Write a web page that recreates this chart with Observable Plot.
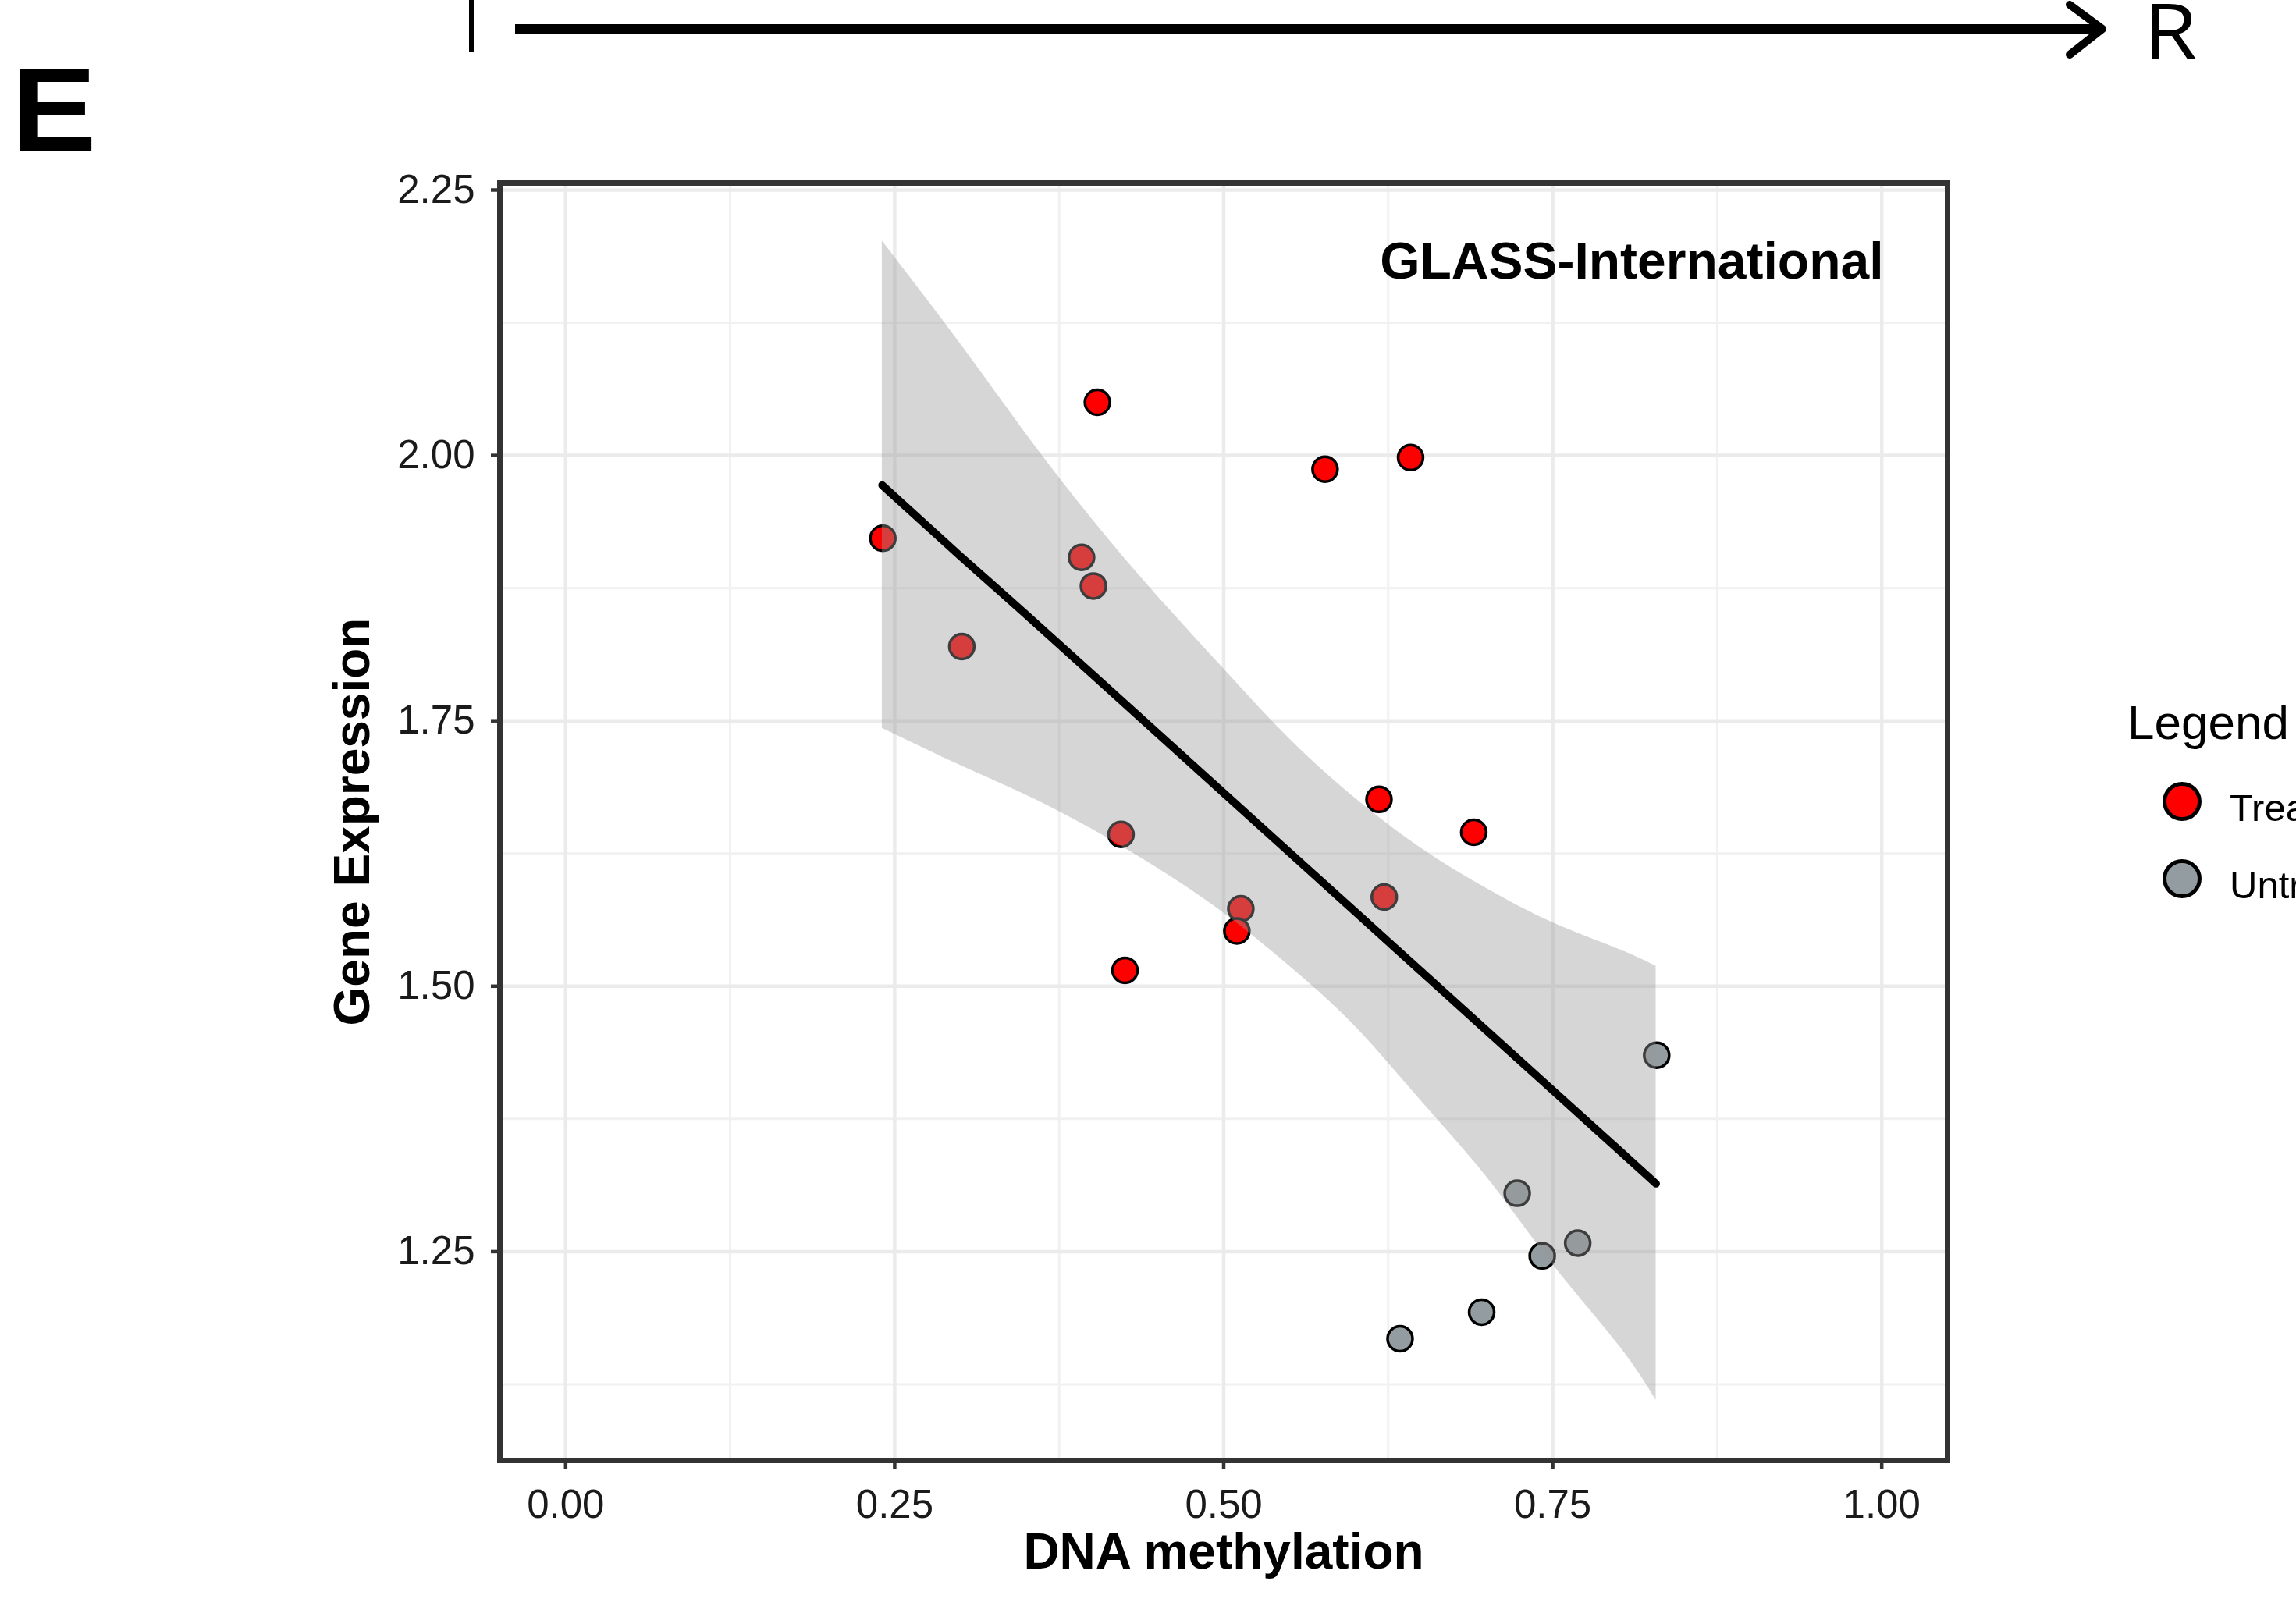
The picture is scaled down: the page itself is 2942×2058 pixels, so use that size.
<!DOCTYPE html>
<html>
<head>
<meta charset="utf-8">
<script src="https://cdn.jsdelivr.net/npm/d3@7"></script>
<script src="https://cdn.jsdelivr.net/npm/@observablehq/plot@0.6"></script>
<style>
  html, body { margin: 0; padding: 0; background: #fff; overflow: hidden; }
  #wrap { position: relative; width: 2942px; height: 2058px; overflow: hidden; background: #fff; }
  #wrap > svg { display: block; }
  #wrap svg.overlay { position: absolute; left: 0; top: 0; pointer-events: none; }
</style>
</head>
<body>
<div id="wrap"></div>
<script>
// ---- data ----
const treatedX = [0.241, 0.301, 0.404, 0.392, 0.401, 0.422, 0.425, 0.513, 0.510, 0.577, 0.642, 0.618, 0.622, 0.690];
const treatedY = [1.922, 1.820, 2.050, 1.904, 1.877, 1.643, 1.515, 1.573, 1.552, 1.987, 1.998, 1.676, 1.584, 1.645];
const untreatedX = [0.829, 0.723, 0.769, 0.742, 0.696, 0.634];
const untreatedY = [1.435, 1.305, 1.258, 1.246, 1.193, 1.168];

// linear fit with 95% confidence band
const fitX     = [0.2405, 0.30, 0.35, 0.40, 0.45, 0.50, 0.55, 0.60, 0.65, 0.70, 0.75, 0.80, 0.8285];
const fitY     = [1.972, 1.905, 1.850, 1.794, 1.738, 1.682, 1.626, 1.570, 1.514, 1.458, 1.402, 1.346, 1.314];
const fitLower = [1.743, 1.708, 1.680, 1.648, 1.611, 1.569, 1.519, 1.462, 1.392, 1.320, 1.238, 1.162, 1.110];
const fitUpper = [2.202, 2.105, 2.020, 1.940, 1.867, 1.799, 1.733, 1.677, 1.630, 1.592, 1.560, 1.535, 1.519];

const xTicks = [0, 0.25, 0.5, 0.75, 1.0];
const yTicks = [1.25, 1.5, 1.75, 2.0, 2.25];
const xMinor = [0.125, 0.375, 0.625, 0.875];
const yMinor = [1.125, 1.375, 1.625, 1.875, 2.125];

const groups = ["Treated", "Untreated"];
const groupColors = ["#FF0000", "#939DA1"];
const xTitle = "DNA methylation";
const yTitle = "Gene Expression";
const panelTitle = "GLASS-International";
const legendTitle = "Legend";
const panelLetter = "E";
const arrowRight = "R";

// ---- build tables ----
const points = treatedX.map((x, i) => ({x, y: treatedY[i], group: groups[0]}))
  .concat(untreatedX.map((x, i) => ({x, y: untreatedY[i], group: groups[1]})));
const fit = fitX.map((x, i) => ({x, y: fitY[i], lo: fitLower[i], hi: fitUpper[i]}));

const FONT = '"Liberation Sans", Arial, Helvetica, sans-serif';

const chart = Plot.plot({
  width: 2942,
  height: 2058,
  marginLeft: 640,
  marginRight: 447,
  marginTop: 234,
  marginBottom: 187,
  style: {fontFamily: FONT, fontSize: "50px", background: "white", color: "#1a1a1a"},
  x: {domain: [-0.05, 1.05]},
  y: {domain: [1.0533, 2.2566]},
  color: {domain: groups, range: groupColors},
  marks: [
    Plot.ruleX(xMinor, {stroke: "#F1F1F1", strokeWidth: 3}),
    Plot.ruleY(yMinor, {stroke: "#F1F1F1", strokeWidth: 3}),
    Plot.ruleX(xTicks, {stroke: "#EBEBEB", strokeWidth: 4.5}),
    Plot.ruleY(yTicks, {stroke: "#EBEBEB", strokeWidth: 4.5}),
    Plot.dot(points, {x: "x", y: "y", r: 16, fill: "group", stroke: "black", strokeWidth: 3.5}),
    Plot.areaY(fit, {x: "x", y1: "lo", y2: "hi", fill: "#999999", fillOpacity: 0.4, curve: "natural"}),
    Plot.line(fit, {x: "x", y: "y", stroke: "black", strokeWidth: 10}),
    Plot.frame({stroke: "#333333", strokeWidth: 7}),
    Plot.axisX(xTicks, {tickSize: 11, tickPadding: 26, tickFormat: d => d.toFixed(2), fontSize: 51,
      stroke: "#333333", strokeWidth: 4.5, fill: "#1a1a1a", label: null}),
    Plot.axisY(yTicks, {tickSize: 11, tickPadding: 21, tickFormat: d => d.toFixed(2), fontSize: 51,
      stroke: "#333333", strokeWidth: 4.5, fill: "#1a1a1a", label: null}),
    Plot.text([xTitle], {frameAnchor: "bottom", lineAnchor: "middle", textAnchor: "middle", dy: 118,
      fontSize: 64, fontWeight: "bold", fill: "black"}),
    Plot.text([yTitle], {frameAnchor: "left", lineAnchor: "middle", textAnchor: "middle", dx: -188, rotate: -90,
      fontSize: 64, fontWeight: "bold", fill: "black"}),
    Plot.text([panelTitle], {frameAnchor: "top-right", lineAnchor: "middle", textAnchor: "end", dx: -82, dy: 101,
      fontSize: 66, fontWeight: "bold", fill: "black"})
  ]
});

const wrap = document.getElementById("wrap");
wrap.appendChild(chart);

// ---- decorations outside the plot: panel letter, arrow, legend ----
const ov = d3.select(wrap).append("svg")
  .attr("class", "overlay")
  .attr("width", 2942).attr("height", 2058)
  .style("font-family", FONT);

ov.append("text").attr("transform", "translate(14,193) scale(1.08,1)")
  .attr("font-size", 152).attr("font-weight", "bold").attr("fill", "black").text(panelLetter);

// top arrow (fragment of a larger figure)
ov.append("line").attr("x1", 604).attr("x2", 604).attr("y1", 0).attr("y2", 67)
  .attr("stroke", "black").attr("stroke-width", 6);
ov.append("line").attr("x1", 660).attr("x2", 2688).attr("y1", 37).attr("y2", 37)
  .attr("stroke", "black").attr("stroke-width", 12);
ov.append("polyline").attr("points", "2652,6 2694,37 2652,70")
  .attr("fill", "none").attr("stroke", "black").attr("stroke-width", 10)
  .attr("stroke-linecap", "round").attr("stroke-linejoin", "round");
ov.append("text").attr("transform", "translate(2746,76) scale(1.15,1)").attr("font-family", '"Open Sans", sans-serif')
  .attr("font-size", 98).attr("fill", "black").text(arrowRight);

// legend
ov.append("text").attr("x", 2726).attr("y", 947).attr("font-size", 62).attr("fill", "black").text(legendTitle);
groups.forEach((g, i) => {
  const cy = 1027 + i * 99;
  ov.append("circle").attr("cx", 2796).attr("cy", cy).attr("r", 22.5)
    .attr("fill", groupColors[i]).attr("stroke", "black").attr("stroke-width", 5);
  ov.append("text").attr("x", 2857).attr("y", cy + 25).attr("font-size", 49).attr("fill", "black").text(g);
});
</script>
</body>
</html>
